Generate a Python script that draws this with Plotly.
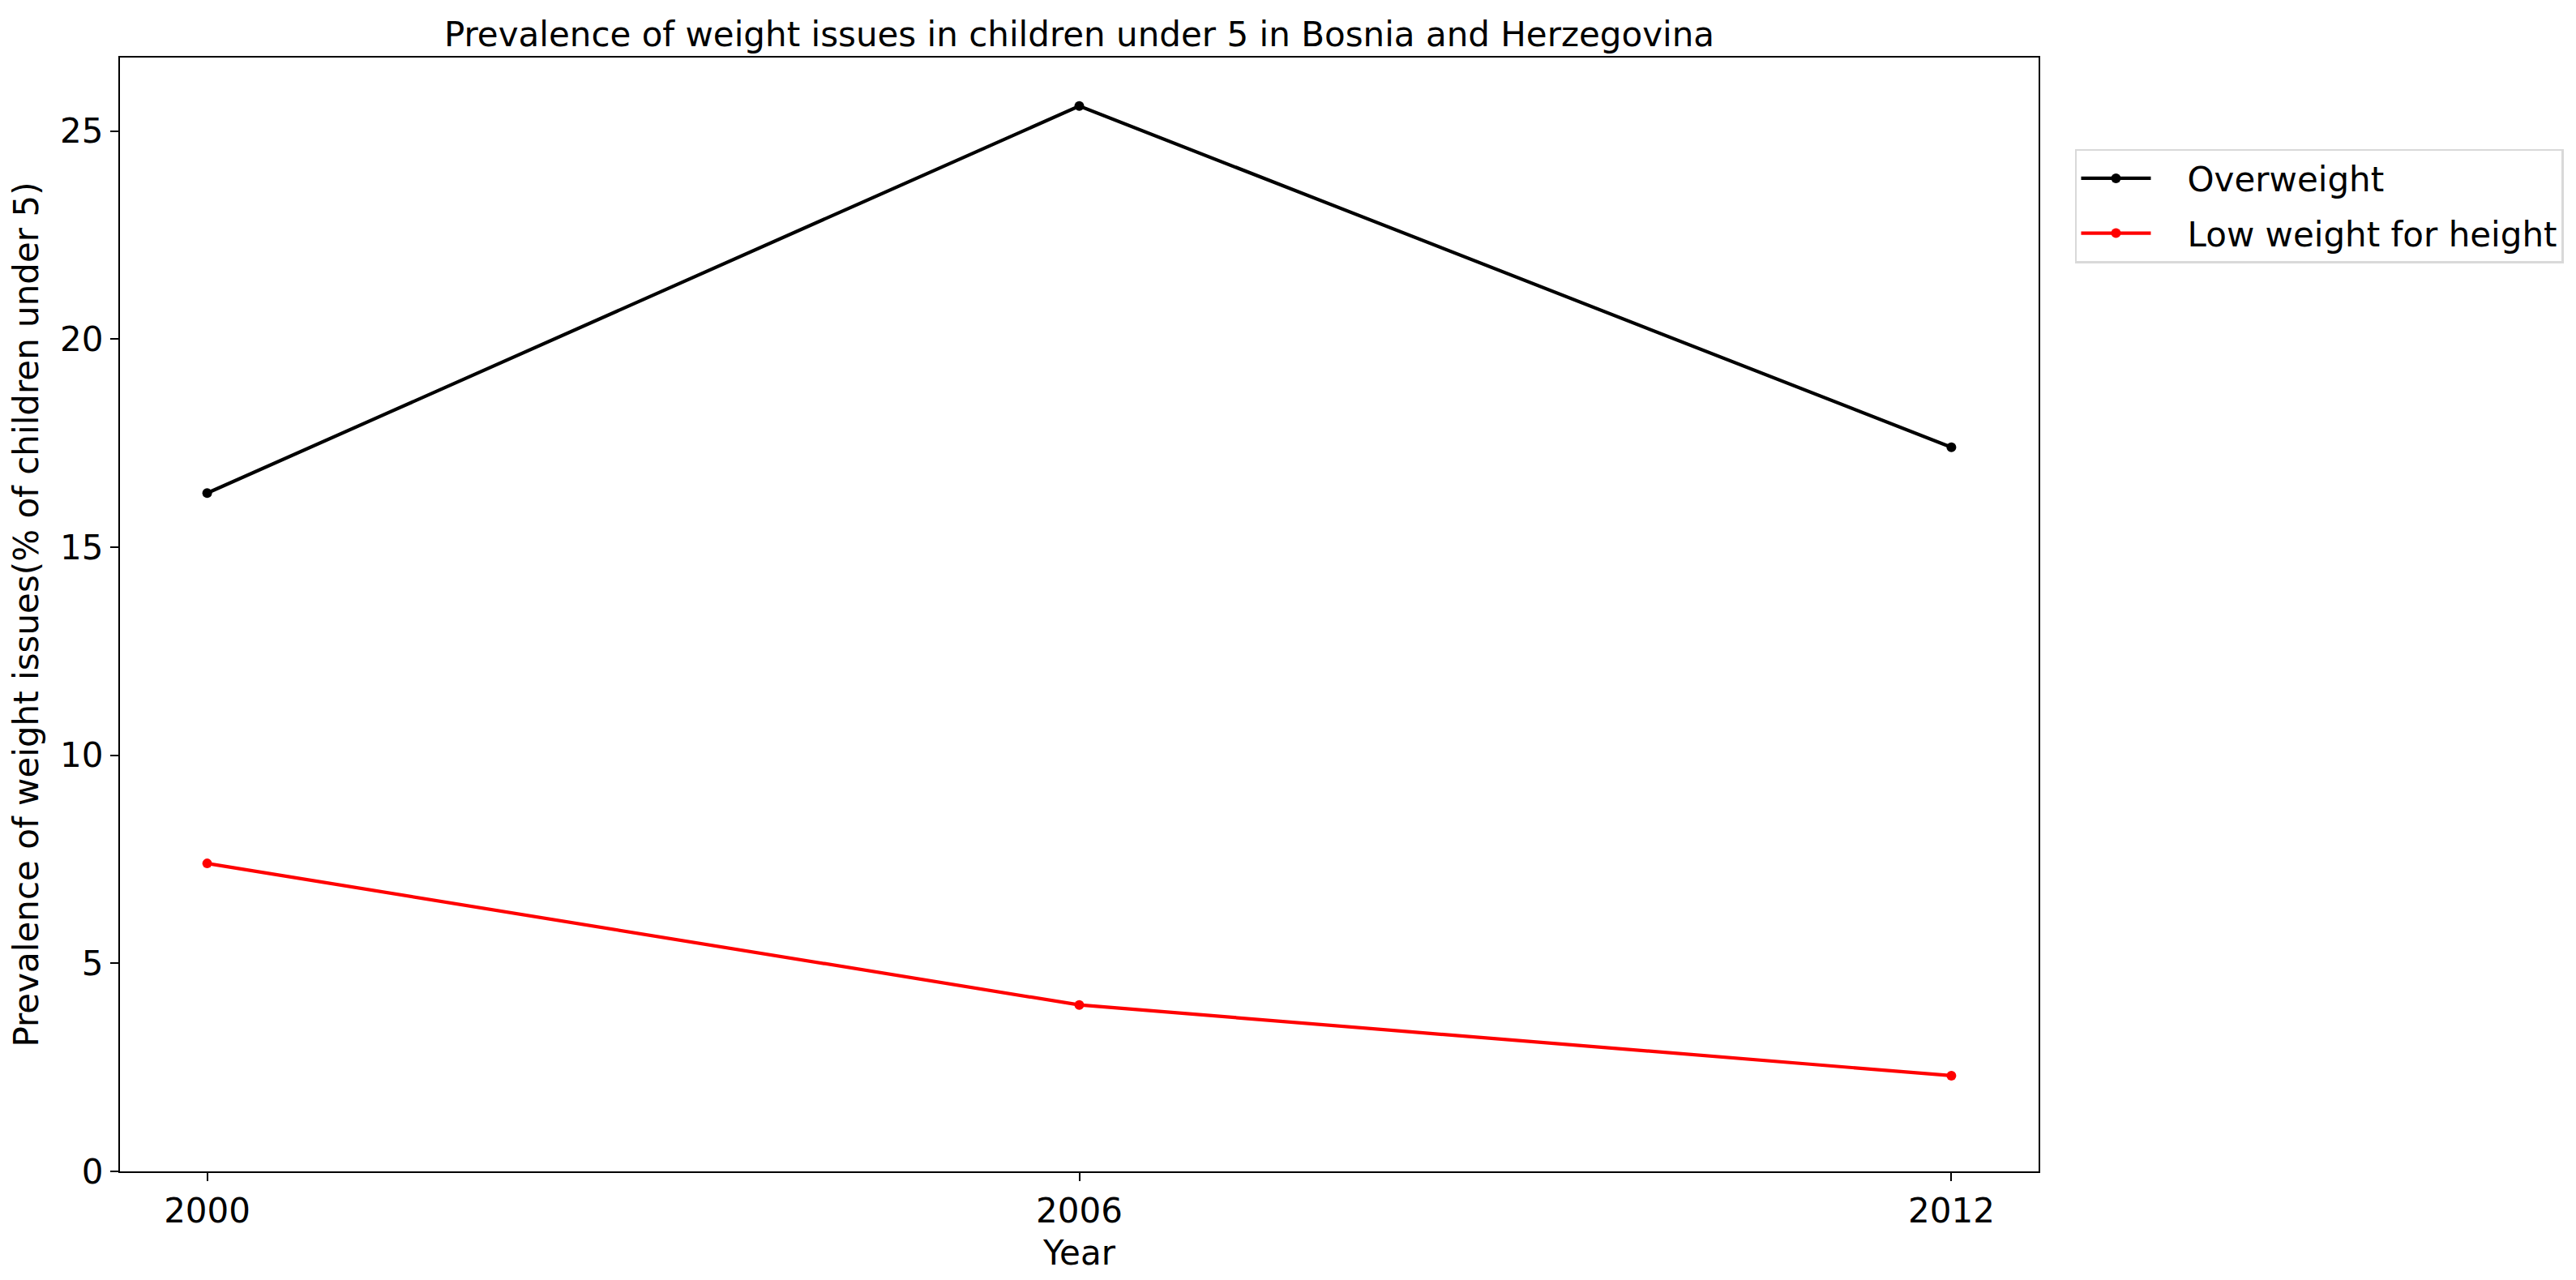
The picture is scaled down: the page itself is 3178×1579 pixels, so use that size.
import plotly.graph_objects as go

years = [2000, 2006, 2012]
overweight = [16.3, 25.6, 17.4]
low_weight = [7.4, 4.0, 2.3]

FONT = "DejaVu Sans"
PAD = "\u00a0" * 3  # gap between legend line and its text

fig = go.Figure()
fig.add_trace(go.Scatter(
    x=years, y=overweight, name=PAD + "Overweight", mode="lines+markers", legendgroup="a",
    line=dict(color="black", width=4.2), marker=dict(size=12, color="black"),
))
fig.add_trace(go.Scatter(
    x=years, y=low_weight, name=PAD + "Low weight for height", mode="lines+markers", legendgroup="b",
    line=dict(color="red", width=4.2), marker=dict(size=12, color="red"),
))

axis_style = dict(
    showline=True, linecolor="black", linewidth=2.2, mirror=True,
    ticks="outside", ticklen=10, tickwidth=2.2, tickcolor="black",
    showgrid=False, zeroline=False,
    tickfont=dict(family=FONT, size=42, color="black"),
)

L, R, T, B = 140, 671, 63, 142

fig.update_layout(
    width=3178, height=1579,
    margin=dict(l=L, r=R, t=T, b=B),
    paper_bgcolor="white", plot_bgcolor="white",
    font=dict(family=FONT, color="black"),
    title=dict(
        text="Prevalence of weight issues in children under 5 in Bosnia and Herzegovina",
        x=(L + 3178 - R) / 2 / 3178, xanchor="center", y=1 - 34 / 1579, yanchor="middle",
        font=dict(family=FONT, size=42, color="black"),
    ),
    xaxis=dict(
        **axis_style, range=[1999.4, 2012.6], tickvals=years,
        title=dict(text="Year", font=dict(family=FONT, size=42), standoff=14),
    ),
    yaxis=dict(
        **axis_style, range=[0, 26.765], tickvals=[0, 5, 10, 15, 20, 25],
        title=dict(text="Prevalence of weight issues(% of children under 5)",
                   font=dict(family=FONT, size=42), standoff=22),
    ),
    legend=dict(
        x=1.019, y=0.918, xanchor="left", yanchor="top",
        bordercolor="#d9d9d9", borderwidth=2.5, bgcolor="white",
        font=dict(family=FONT, size=42, color="black"),
        itemwidth=86, traceorder="grouped", tracegroupgap=10,
    ),
)

fig.write_html("out.html")
